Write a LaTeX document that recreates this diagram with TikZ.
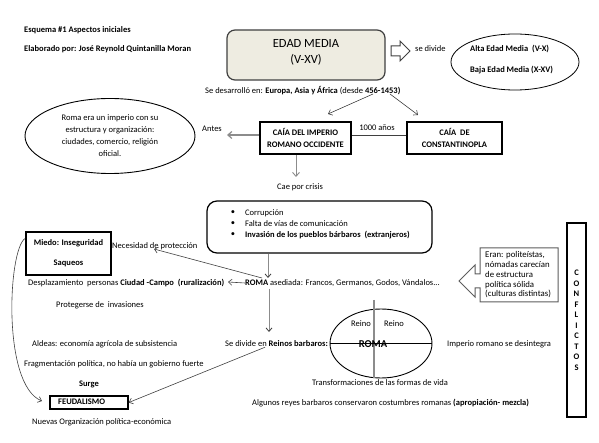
\documentclass[tikz,border=0pt]{standalone}
\usepackage{fontspec}
\setmainfont{Carlito}
\usetikzlibrary{shapes.geometric, arrows.meta, calc}

\definecolor{beige}{HTML}{EEECE1}
\definecolor{linegray}{HTML}{8C8C8C}
\definecolor{darkline}{HTML}{404040}

\tikzset{
  txt/.style={inner sep=0pt, font=\fontsize{8.5}{10}\selectfont},
  btxt/.style={inner sep=0pt, font=\fontsize{8.5}{10}\selectfont\bfseries},
  boldbox/.style={draw, line width=2pt, inner sep=0pt, align=center, font=\fontsize{8.5}{12}\selectfont\bfseries},
  thinarr/.style={darkline, line width=0.6pt, -{Straight Barb[length=3.5pt,width=6pt]}},
  gthin/.style={linegray, line width=0.8pt, -{Straight Barb[length=3.5pt,width=6pt,color=darkline]}},
  grayarr/.style={linegray, line width=1.2pt, -{Straight Barb[length=4pt,width=7pt]}},
}

\begin{document}
\begin{tikzpicture}[x=1pt, y=-1pt]
\useasboundingbox (0,0) rectangle (599,443);

% encabezado
\node[btxt, anchor=west] (titulo) at (24,30) {Esquema \#1 Aspectos iniciales};
\node[btxt, anchor=west] (autor) at (24,49) {Elaborado por: José Reynold Quintanilla Moran};

% edad media
\node[draw=darkline, fill=beige, line width=1.2pt, rounded corners=8pt, minimum width=158pt, minimum height=50pt] (edad) at (306,55) {};
\node[align=center, inner sep=0pt, font=\fontsize{12.5}{16}\selectfont] (edadTxt) at (306,52) {EDAD MEDIA\\(V-XV)};
\draw[darkline, line width=1pt] (391,46) -- (400,46) -- (400,41) -- (410,51) -- (400,61) -- (400,56) -- (391,56) -- cycle;
\node[txt, anchor=west] (sedivide) at (415,49) {se divide};
\node[draw, ellipse, line width=0.8pt, minimum width=128pt, minimum height=56pt] (etapas) at (515,62) {};
\node[btxt, anchor=west] (alta) at (470,49) {Alta Edad Media\ \ (V-X)};
\node[btxt, anchor=west] (baja) at (470,70) {Baja Edad Media (X-XV)};
\node[txt, anchor=west] (desarrollo) at (205,91) {Se desarrolló en: \textbf{Europa, Asia y África} (desde \textbf{456-1453)}};

% caidas
\node[boldbox, minimum width=91pt, minimum height=32pt] (caia) at (305.5,138) {CAÍA DEL IMPERIO\\ROMANO OCCIDENTE};
\node[boldbox, minimum width=95pt, minimum height=32pt] (consta) at (454.5,138) {CAÍA\ \ DE\\CONSTANTINOPLA};
\coordinate (d1) at (373,94);
\coordinate (d2) at (390,94);
\draw[thinarr] (d1) -- ([xshift=22.5pt,yshift=7pt]caia.north);
\draw[thinarr] (d2) -- ([xshift=-36.5pt,yshift=6pt]consta.north);
\draw[darkline, line width=0.6pt] ([yshift=3pt]caia.east) -- ([yshift=3pt]consta.west);
\node[txt] (anos) at (377,128) {1000 años};
\node[txt] (antes) at (212,129) {Antes};
\coordinate (antesTip) at (227,135);
\draw[grayarr] ([yshift=3pt]caia.west) -- (antesTip);

% roma antes
\node[draw, ellipse, line width=0.9pt, minimum width=170pt, minimum height=75pt, inner sep=0pt, align=center, font=\fontsize{8.5}{12}\selectfont] (romaIni) at (110,136) {Roma era un imperio con su\\estructura y organización:\\ciudades, comercio, religión\\oficial.};

% crisis
\coordinate (caeTip) at (296,177);
\draw[grayarr, line width=0.9pt] ([xshift=-9.5pt]caia.south) -- (caeTip);
\node[txt] (caepor) at (300,187) {Cae por crisis};
\node[draw, line width=1.2pt, rounded corners=10pt, minimum width=225pt, minimum height=52pt] (crisis) at (319.5,227) {};
\foreach \y in {213,224,235}
  \node[txt] (bul\y) at (233,\y) {\textbullet};
\node[txt, anchor=west] (corr) at (245,213) {Corrupción};
\node[txt, anchor=west] (falta) at (245,224) {Falta de vías de comunicación};
\node[btxt, anchor=west] (invasion) at (245,235) {Invasión de los pueblos bárbaros\ \ (extranjeros)};

% roma asediada
\coordinate (asedTip) at (268,278);
\draw[gthin] ([xshift=-51.5pt]crisis.south) -- (asedTip);
\node[txt, anchor=west] (asediada) at (245,283) {\textbf{ROMA} asediada: Francos, Germanos, Godos, Vándalos...};
\node[txt, anchor=west] (despl) at (28,283) {Desplazamiento\ \ personas \textbf{Ciudad -Campo}\ \ \textbf{(ruralización)}};
\coordinate (desplTip) at (228,282);
\draw[thinarr] (asediada.west) -- (desplTip);
\node[txt, anchor=west] (necesidad) at (112,246) {Necesidad de protección};
\coordinate (necStart) at (262,278);
\coordinate (necTip) at (154,249);
\draw[thinarr] (necStart) -- (necTip);
\node[boldbox, minimum width=85pt, minimum height=43pt, font=\fontsize{8.5}{20}\selectfont\bfseries] (miedo) at (68.5,253.5) {Miedo: Inseguridad\\Saqueos};
\node[txt] (proteg) at (100,305) {Protegerse de\ \ invasiones};

% reinos
\coordinate (reinosTip) at (269,332);
\draw[gthin] ([xshift=24pt,yshift=-2pt]asediada.south west) -- (reinosTip);
\node[txt, anchor=west] (reinosTxt) at (225,344) {Se divide en \textbf{Reinos barbaros:}};
\node[draw, ellipse, line width=0.9pt, minimum width=102pt, minimum height=69pt] (romaEll) at (381,343.5) {};
\draw[linegray, line width=1.5pt] (374,300) -- (374,378);
\draw[line width=0.9pt] (romaEll.west) -- (romaEll.east);
\node[txt] (reino1) at (361,324) {Reino};
\node[txt] (reino2) at (394,324) {Reino};
\node[inner sep=0pt, font=\fontsize{10.5}{12}\selectfont\bfseries] (romaTxt) at (373,344) {ROMA};
\node[txt, anchor=west] (desint) at (447,344) {Imperio romano se desintegra};
\node[txt, anchor=west] (transf) at (312,383) {Transformaciones de las formas de vida};
\node[txt, anchor=west] (reyes) at (252,403) {Algunos reyes barbaros conservaron costumbres romanas \textbf{(apropiación- mezcla)}};

% feudalismo
\node[txt, anchor=west] (aldeas) at (32,344) {Aldeas: economía agrícola de subsistencia};
\node[txt, anchor=west] (fragm) at (24,364) {Fragmentación política, no había un gobierno fuerte};
\node[btxt] (surge) at (89,384) {Surge};
\node[draw, line width=1.5pt, minimum width=78pt, minimum height=13pt, inner sep=0pt] (feudal) at (89,402.5) {};
\node[btxt, anchor=west] (feudalTxt) at (58,402) {FEUDALISMO};
\node[txt, anchor=west] (nuevas) at (32,422) {Nuevas Organización política-económica};
\draw[thinarr] ([xshift=40pt]reinosTxt.south west) -- (feudal.east);
\coordinate (feudTip) at (42,401);
\draw[thinarr] ([yshift=15pt]miedo.west) .. controls (8,250) and (2,385) .. (feudTip);

% barbaros
\draw[darkline!85, line width=1pt, fill=white] (480,248) -- (558,248) -- (558,302) -- (480,302) -- (480,288) -- (475,288) -- (475,297) -- (459,281) -- (475,265) -- (475,274) -- (480,274) -- cycle;
\node[inner sep=0pt, anchor=north west, align=left, font=\fontsize{8.8}{9.9}\selectfont] (eran) at (485,251) {Eran: politeístas,\\nómadas carecían\\de estructura\\política sólida\\(culturas distintas)};
\node[draw, line width=2pt, minimum width=19pt, minimum height=194pt, inner sep=0pt, align=center, font=\fontsize{8.5}{10.5}\selectfont\bfseries] (conflictos) at (576.5,320) {C\\O\\N\\F\\L\\I\\C\\T\\O\\S};
\end{tikzpicture}
\end{document}
